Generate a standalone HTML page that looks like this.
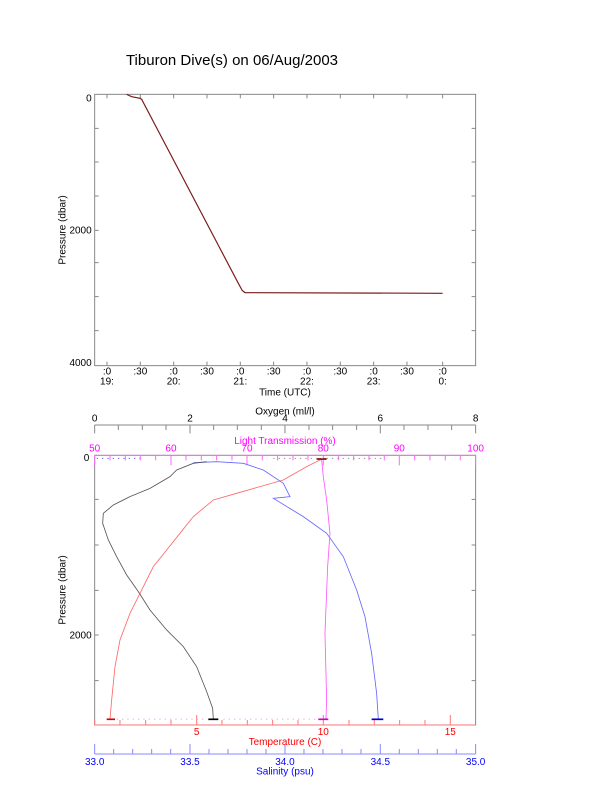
<!DOCTYPE html>
<html><head><meta charset="utf-8"><style>body{margin:0;background:#fff}svg{display:block}</style></head><body>
<svg width="612" height="785" viewBox="0 0 612 785" xmlns="http://www.w3.org/2000/svg" font-family="Liberation Sans, sans-serif">
<text x="232" y="65" font-size="15" text-anchor="middle">Tiburon Dive(s) on 06/Aug/2003</text>
<!-- Top chart -->
<g transform="translate(50,80) scale(0.3333)">
<rect x="134" y="43" width="1143" height="814" fill="none" stroke="#888" stroke-width="3"/>
<g stroke="#888" stroke-width="3">
<path d="M134,145h12M134,246h12M134,348h12M134,451h12M134,548h12M134,650h12M134,752h12M1277,145h-12M1277,246h-12M1277,348h-12M1277,451h-12M1277,548h-12M1277,650h-12M1277,752h-12"/>
<path d="M171,857v-12M271,857v-12M371,857v-12M471,857v-12M571,857v-12M671,857v-12M771,857v-12M871,857v-12M971,857v-12M1071,857v-12M1178,857v-12M171,43v12M271,43v12M371,43v12M471,43v12M571,43v12M671,43v12M771,43v12M871,43v12M971,43v12M1071,43v12M1178,43v12"/>
</g>
<polyline fill="none" stroke="#7a1a1a" stroke-width="3.5" points="230,43 245,50 270,55 275,58 565,610 577,632 585,638 1178,640"/>
<g font-size="30" text-anchor="end"><text x="125" y="64">0</text><text x="125" y="461">2000</text><text x="125" y="858">4000</text></g>
<g font-size="30" text-anchor="middle">
<text x="171" y="883">:0</text><text x="271" y="883">:30</text><text x="371" y="883">:0</text><text x="471" y="883">:30</text><text x="571" y="883">:0</text><text x="671" y="883">:30</text><text x="771" y="883">:0</text><text x="871" y="883">:30</text><text x="971" y="883">:0</text><text x="1071" y="883">:30</text><text x="1178" y="883">:0</text>
<text x="171" y="913">19:</text><text x="371" y="913">20:</text><text x="571" y="913">21:</text><text x="771" y="913">22:</text><text x="971" y="913">23:</text><text x="1178" y="913">0:</text>
<text x="705" y="946">Time (UTC)</text>
<text transform="translate(47,450) rotate(-90)">Pressure (dbar)</text>
</g>
</g>
<!-- Bottom chart -->
<g transform="translate(50,400) scale(0.3333)">
<rect x="134" y="166" width="1143" height="809" fill="none" stroke="#888" stroke-width="3"/>
<g stroke="#888" stroke-width="3">
<path d="M134,75h1143"/>
<path d="M134,75v25M205,75v15M277,75v15M348,75v15M420,75v25M491,75v15M562,75v15M634,75v15M705,75v25M777,75v15M848,75v15M920,75v15M991,75v25M1062,75v15M1134,75v15M1205,75v15M1277,75v25"/>
<path d="M134,298h12M134,435h12M134,571h12M134,705h12M134,842h12M1277,298h-12M1277,435h-12M1277,571h-12M1277,705h-12M1277,842h-12"/>
</g>
<g stroke="#ff66ff" stroke-width="3">
<path d="M134,166h1143"/>
<path d="M134,166v30M180,166v15M226,166v15M271,166v15M317,166v15M363,166v30M408,166v15M454,166v15M500,166v15M546,166v15M591,166v30M637,166v15M683,166v15M729,166v15M774,166v15M820,166v30M866,166v15M911,166v15M957,166v15M1003,166v15M1048,166v30M1094,166v15M1140,166v15M1186,166v15M1231,166v15M1277,166v30"/>
</g>
<g stroke="#ff7777" stroke-width="3">
<path d="M134,975h1143"/>
<path d="M134,975v-15M210,975v-15M287,975v-15M363,975v-15M440,975v-30M516,975v-15M592,975v-15M668,975v-15M744,975v-15M820,975v-30M897,975v-15M973,975v-15M1049,975v-15M1125,975v-15M1201,975v-30"/>
</g>
<g stroke="#8888ff" stroke-width="3">
<path d="M134,1062h1143"/>
<path d="M134,1062v-30M191,1062v-15M248,1062v-15M305,1062v-15M362,1062v-15M420,1062v-30M477,1062v-15M534,1062v-15M591,1062v-15M648,1062v-15M705,1062v-30M762,1062v-15M819,1062v-15M876,1062v-15M933,1062v-15M991,1062v-30M1048,1062v-15M1105,1062v-15M1162,1062v-15M1219,1062v-15M1277,1062v-30"/>
</g>
<g fill="none" stroke-width="2.5">
<polyline stroke="#ff6666" points="180,958 185,900 195,800 210,720 240,640 270,580 310,500 350,450 390,400 430,350 490,300 560,280 630,260 700,240 770,200 810,180 820,175"/>
<polyline stroke="#6666ff" points="985,958 980,880 965,760 945,650 920,570 880,470 830,400 760,350 670,295 720,290 700,250 640,210 580,190 500,185 430,188"/>
<polyline stroke="#ff55ff" points="828,958 830,900 825,700 833,500 840,400 830,300 820,230 815,180 812,175"/>
<polyline stroke="#555" points="490,958 488,925 470,875 440,800 400,740 350,690 300,630 265,575 230,525 200,470 175,420 158,370 160,340 190,315 240,290 300,265 360,230 380,210 430,190 470,185"/>
</g>
<g stroke-width="5">
<path d="M170,958h25" stroke="#d00"/><path d="M475,958h30" stroke="#000"/><path d="M965,958h35" stroke="#00c"/><path d="M805,958h30" stroke="#c0c"/><path d="M800,177h30" stroke="#800"/>
</g>
<g fill="none" stroke-width="3" stroke-dasharray="4,12">
<path d="M140,175h130" stroke="#66f"/><path d="M670,175h330" stroke="#999"/><path d="M200,958h260" stroke="#f9f"/><path d="M520,958h280" stroke="#f9f"/>
</g>
<g font-size="30" text-anchor="middle">
<text x="705" y="43">Oxygen (ml/l)</text>
<text x="134" y="64">0</text><text x="420" y="64">2</text><text x="705" y="64">4</text><text x="991" y="64">6</text><text x="1277" y="64">8</text>
<g fill="#ff00ff"><text x="705" y="132">Light Transmission (%)</text>
<text x="134" y="155">50</text><text x="363" y="155">60</text><text x="591" y="155">70</text><text x="820" y="155">80</text><text x="1048" y="155">90</text><text x="1277" y="155">100</text></g>
<g fill="#ff0000"><text x="440" y="1005">5</text><text x="820" y="1005">10</text><text x="1201" y="1005">15</text><text x="705" y="1035">Temperature (C)</text></g>
<g fill="#0000ff"><text x="134" y="1095">33.0</text><text x="420" y="1095">33.5</text><text x="705" y="1095">34.0</text><text x="991" y="1095">34.5</text><text x="1277" y="1095">35.0</text><text x="705" y="1124">Salinity (psu)</text></g>
<text x="118" y="183" text-anchor="end">0</text><text x="125" y="715" text-anchor="end">2000</text>
<text transform="translate(47,570) rotate(-90)">Pressure (dbar)</text>
</g>
</g>
</svg>
</body></html>
